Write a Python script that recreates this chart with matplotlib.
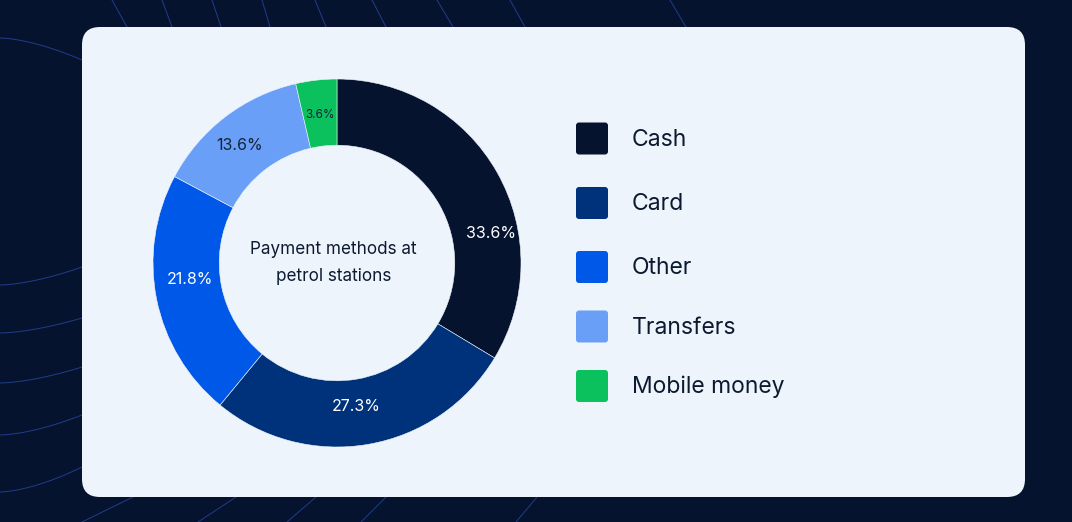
import numpy as np
import matplotlib
matplotlib.use("Agg")
import matplotlib.pyplot as plt
from matplotlib.patches import FancyBboxPatch

plt.rcParams["font.family"] = ["Inter", "DejaVu Sans"]

categories = ["Cash", "Card", "Other", "Transfers", "Mobile money"]
shares = [33.6, 27.3, 21.8, 13.6, 3.6]
colors = ["#06132F", "#00317B", "#0058E8", "#6A9FF8", "#0BC15E"]
label_colors = ["white", "white", "white", "#13233A", "#13233A"]
center_title = "Payment methods at\npetrol stations"

W, H = 1072, 522
bg = "#06132F"
card_col = "#EEF4FB"
line_col = "#2A4FB0"

fig = plt.figure(figsize=(W / 100, H / 100), dpi=100, facecolor=bg)

# full-figure pixel axes for background, card and legend
bga = fig.add_axes([0, 0, 1, 1])
bga.set_xlim(0, W)
bga.set_ylim(H, 0)
bga.axis("off")

# faint decorative lines in the background
top_lines = [(112, 127), (162, 172), (212, 221), (262, 270), (315, 326),
             (372, 386), (437, 453), (510, 525), (670, 686)]
for x0, x1 in top_lines:
    bga.plot([x0, x1], [0, 27], color=line_col, lw=0.7, alpha=0.7)
left_lines = [(38, 60), (285, 267), (333, 318), (383, 367), (435, 415), (492, 467)]
for y0, y1 in left_lines:
    xs = np.linspace(0, 82, 30)
    ys = y0 + (y1 - y0) * (xs / 82) ** 1.6
    bga.plot(xs, ys, color=line_col, lw=0.7, alpha=0.7)
bottom_lines = [(133, 82), (236, 198), (316, 287), (386, 361), (537, 516)]
for x0, x1 in bottom_lines:
    bga.plot([x0, x1], [497, 522], color=line_col, lw=0.7, alpha=0.7)

card = FancyBboxPatch((82, 27), 943, 470, boxstyle="round,pad=0,rounding_size=18",
                      fc=card_col, ec="none", zorder=2)
bga.add_patch(card)

# legend
leg_y = [138.5, 203, 267, 326.5, 386]
for name, col, y in zip(categories, colors, leg_y):
    sq = FancyBboxPatch((576, y - 16), 32, 32, boxstyle="round,pad=0,rounding_size=3",
                        fc=col, ec="none", zorder=3)
    bga.add_patch(sq)
    bga.text(632, y + 1, name, fontsize=16.5, color="#0C1A30", va="center", ha="left", zorder=3)

# donut
cx, cy, R = 337, 263, 184
ax = fig.add_axes([(cx - R) / W, (H - cy - R) / H, 2 * R / W, 2 * R / H])
wedges, _ = ax.pie(shares, colors=colors, startangle=90, counterclock=False,
                   radius=1, wedgeprops=dict(width=0.36, edgecolor=card_col, linewidth=0.4))
ax.set_xlim(-1, 1)
ax.set_ylim(-1, 1)
ax.set_aspect("equal")
ax.axis("off")

nudge = [-18.5, -2, -5, 2, 0]
lab_r = [0.855, 0.785, 0.805, 0.83, 0.81]
lab_size = [11.5, 11.5, 11.5, 11.5, 8.5]
for w, s, c, dn, r, fs in zip(wedges, shares, label_colors, nudge, lab_r, lab_size):
    ang = np.deg2rad((w.theta1 + w.theta2) / 2 + dn)
    ax.text(r * np.cos(ang), r * np.sin(ang), f"{s}%", color=c, fontsize=fs,
            ha="center", va="center")

ax.text(-0.02, 0.0, center_title, ha="center", va="center", fontsize=12.3,
        color="#0C1A30", linespacing=1.7)

fig.savefig("out.png", dpi=100, facecolor=bg)
